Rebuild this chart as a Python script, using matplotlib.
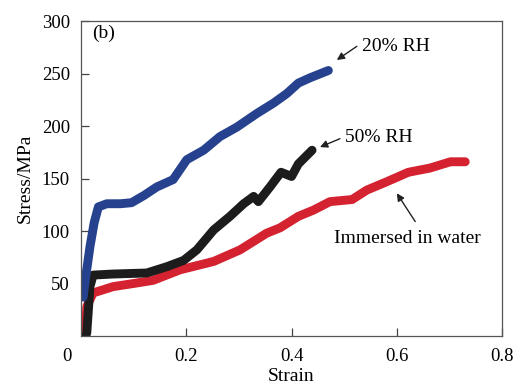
import matplotlib
matplotlib.use("Agg")
import matplotlib.pyplot as plt
from matplotlib.transforms import blended_transform_factory

# strain / stress values
strain_20rh = [0.004, 0.010, 0.017, 0.025, 0.033, 0.049, 0.075, 0.096, 0.12, 0.144, 0.175,
               0.201, 0.233, 0.264, 0.296, 0.334, 0.366, 0.391, 0.413, 0.435, 0.470]
stress_20rh = [37, 60, 85, 108, 123, 126, 126, 127, 134, 142, 149,
               168, 177, 190, 199, 212, 222, 231, 241, 246, 253]

strain_50rh = [0.009, 0.011, 0.017, 0.023, 0.06, 0.125, 0.163, 0.195, 0.22, 0.252, 0.283,
               0.309, 0.328, 0.337, 0.359, 0.380, 0.40, 0.413, 0.439]
stress_50rh = [0, 3, 47, 58, 59, 60, 66, 72, 82, 101, 114,
               126, 133, 128, 142, 156, 152, 164, 177]

strain_water = [0.008, 0.011, 0.023, 0.061, 0.10, 0.137, 0.188, 0.252, 0.302, 0.353, 0.378,
                0.413, 0.442, 0.473, 0.515, 0.543, 0.581, 0.622, 0.663, 0.702, 0.73]
stress_water = [0, 28, 41, 47, 50, 53, 63, 71, 82, 98, 103,
                114, 120, 128, 130, 139, 147, 156, 160, 166, 166]

xticks = [0.2, 0.4, 0.6, 0.8]
yticks = [50, 100, 150, 200, 250, 300]

plt.rcParams['font.family'] = ['Liberation Serif', 'DejaVu Serif']
plt.rcParams['font.size'] = 14

fig = plt.figure(figsize=(5.16, 3.92), dpi=100)
ax = fig.add_axes([0.157, 0.143, 0.816, 0.803])

lw = 6.4
style = dict(lw=lw, solid_capstyle='round', solid_joinstyle='round')
ax.plot(strain_water, stress_water, color='#d42230', **style)
ax.plot(strain_50rh, stress_50rh, color='#1c1c1c', **style)
ax.plot(strain_20rh, stress_20rh, color='#26428f', **style)

ax.set_xlim(0, 0.8)
ax.set_ylim(0, 300)
ax.set_xticks(xticks)
ax.set_xticklabels([f'{t:g}' for t in xticks])
ax.set_yticks(yticks)
ax.tick_params(direction='in', length=5.5, width=0.9, color='#444444', labelsize=13.5, pad=8)
ax.tick_params(axis='x', pad=9)
for s in ax.spines.values():
    s.set_color('#555555')
    s.set_linewidth(0.9)

# the shared "0" at the corner
ax.text(-0.027, -0.065, '0', transform=blended_transform_factory(ax.transData, ax.transAxes),
        ha='center', va='center', fontsize=13.5)

ax.set_xlabel('Strain', fontsize=14, labelpad=2)
ax.set_ylabel('Stress/MPa', fontsize=14, labelpad=6)

ax.text(0.021, 288, '(b)', fontsize=14, va='center', ha='left')

arrow = dict(arrowstyle='-|>', color='#222222', lw=1.0, mutation_scale=11, shrinkA=0, shrinkB=0)
ax.annotate('', xy=(0.486, 263), xytext=(0.524, 276), arrowprops=arrow)
ax.text(0.534, 276, '20% RH', fontsize=14, va='center', ha='left')
ax.annotate('', xy=(0.454, 180), xytext=(0.492, 188), arrowprops=arrow)
ax.text(0.502, 189, '50% RH', fontsize=14, va='center', ha='left')
ax.annotate('', xy=(0.60, 136), xytext=(0.635, 109), arrowprops=arrow)
ax.text(0.62, 93, 'Immersed in water', fontsize=14, va='center', ha='center')

fig.savefig('out.png', dpi=100)
